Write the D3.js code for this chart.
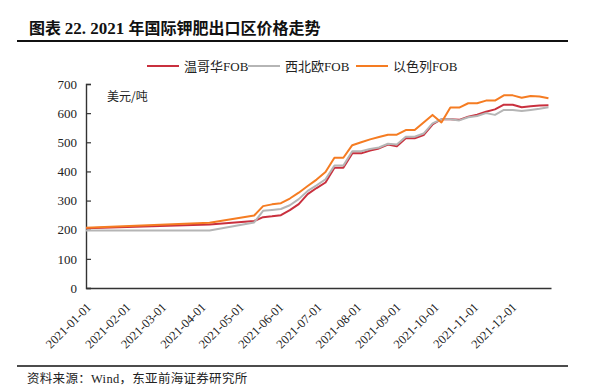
<!DOCTYPE html>
<html>
<head>
<meta charset="utf-8">
<script src="https://cdn.jsdelivr.net/npm/d3@7"></script>
<style>
  body { margin: 0; background: #fff; }
  svg { display: block; }
</style>
</head>
<body>
<div id="chart"></div>
<script>
// Weekly prices, USD/ton
const dates = [
  '2021-01-01', '2021-04-08',
  '2021-05-13', '2021-05-20', '2021-05-27',
  '2021-06-03', '2021-06-10', '2021-06-17', '2021-06-24',
  '2021-07-01', '2021-07-08', '2021-07-15', '2021-07-22', '2021-07-29',
  '2021-08-05', '2021-08-12', '2021-08-19', '2021-08-26',
  '2021-09-02', '2021-09-09', '2021-09-16', '2021-09-23', '2021-09-30',
  '2021-10-07', '2021-10-14', '2021-10-21', '2021-10-28',
  '2021-11-04', '2021-11-11', '2021-11-18', '2021-11-25',
  '2021-12-02', '2021-12-09', '2021-12-16', '2021-12-23', '2021-12-30'
];
const vancouver = [
  205, 218,
  230, 243, 246,
  250, 267, 288, 322,
  343, 362, 413, 413, 462,
  462, 472, 479, 492,
  486, 514, 514, 525, 561,
  579, 579, 577, 588,
  595, 605, 613, 629,
  629, 620, 624, 626, 627
];
const nwEurope = [
  197, 197,
  225, 265, 268,
  271, 284, 305, 333,
  352, 373, 420, 420, 469,
  469, 477, 482, 495,
  492, 519, 519, 530, 565,
  579, 579, 575, 586,
  590, 600, 594, 611,
  611, 607, 611, 615, 620
];
const israel = [
  207, 224,
  249, 281, 287,
  291, 307, 327, 350,
  372, 398, 447, 447, 490,
  500, 510, 518, 526,
  526, 542, 542, 568, 594,
  568, 619, 619, 634,
  634, 643, 643, 661,
  661, 653, 659, 657, 651
];
const seriesNames = ['温哥华FOB', '西北欧FOB', '以色列FOB'];
const seriesColors = ['#c9303e', '#b5b5b5', '#f57c22'];
const yTicks = [0, 100, 200, 300, 400, 500, 600, 700];
const xTickLabels = [
  '2021-01-01', '2021-02-01', '2021-03-01', '2021-04-01', '2021-05-01', '2021-06-01',
  '2021-07-01', '2021-08-01', '2021-09-01', '2021-10-01', '2021-11-01', '2021-12-01'
];

const width = 590, height = 391;
const margin = { top: 84, right: 39, bottom: 103, left: 86 };
const serif = '"Liberation Serif", "Times New Roman", "Noto Sans CJK SC", serif';
const cjk = '"Noto Sans CJK SC", "Liberation Serif", sans-serif';

const parseDate = d3.timeParse('%Y-%m-%d');

const svg = d3.select('#chart').append('svg')
  .attr('width', width)
  .attr('height', height);

// Title
const title = svg.append('text')
  .attr('x', 29)
  .attr('y', 34)
  .attr('font-size', 16)
  .attr('font-weight', 'bold')
  .attr('fill', '#111');
title.append('tspan').attr('font-family', cjk).text('图表 ');
title.append('tspan').attr('font-family', serif).attr('font-size', 17).text('22. 2021 ');
title.append('tspan').attr('font-family', cjk).text('年国际钾肥出口区价格走势');

svg.append('line')
  .attr('x1', 17).attr('x2', 568)
  .attr('y1', 41).attr('y2', 41)
  .attr('stroke', '#111')
  .attr('stroke-width', 2);

// Scales
const x = d3.scaleTime()
  .domain([parseDate('2021-01-01'), parseDate('2022-01-01')])
  .range([margin.left, width - margin.right]);

const y = d3.scaleLinear()
  .domain([0, 700])
  .range([height - margin.bottom, margin.top]);

// Y axis
const yAxis = svg.append('g')
  .attr('transform', `translate(${margin.left},0)`)
  .call(d3.axisRight(y).tickValues(yTicks).tickSize(5).tickFormat(d3.format('d')));
yAxis.select('.domain').attr('stroke', '#333').attr('stroke-width', 1.4);
yAxis.selectAll('.tick line').attr('stroke', '#333').attr('stroke-width', 1.2);
yAxis.selectAll('.tick text')
  .attr('x', -9)
  .attr('text-anchor', 'end')
  .attr('font-family', serif)
  .attr('font-size', 13)
  .attr('fill', '#222');

// X axis
const xAxis = svg.append('g')
  .attr('transform', `translate(0,${height - margin.bottom})`)
  .call(d3.axisBottom(x).tickValues(xTickLabels.map(parseDate)).tickSize(0).tickFormat(''));
xAxis.select('.domain').attr('stroke', '#333').attr('stroke-width', 1.4);

svg.append('g')
  .selectAll('text')
  .data(xTickLabels)
  .join('text')
  .attr('transform', d => `translate(${x(parseDate(d)) + 6},${height - margin.bottom + 20}) rotate(-45)`)
  .attr('text-anchor', 'end')
  .attr('font-family', serif)
  .attr('font-size', 12.5)
  .attr('fill', '#222')
  .text(d => d);

// Unit label
svg.append('text')
  .attr('x', 107)
  .attr('y', 101)
  .attr('font-family', cjk)
  .attr('font-size', 12)
  .attr('fill', '#222')
  .text('美元/吨');

// Lines
const line = d3.line()
  .x(d => x(d.date))
  .y(d => y(d.value));

[vancouver, nwEurope, israel].forEach((values, i) => {
  const data = dates.map((d, j) => ({ date: parseDate(d), value: values[j] }));
  svg.append('path')
    .datum(data)
    .attr('fill', 'none')
    .attr('stroke', seriesColors[i])
    .attr('stroke-width', 2)
    .attr('stroke-linejoin', 'round')
    .attr('d', line);
});

// Legend
const legendX = [147, 248, 356];
const legend = svg.append('g');
seriesNames.forEach((name, i) => {
  legend.append('line')
    .attr('x1', legendX[i]).attr('x2', legendX[i] + 32)
    .attr('y1', 66).attr('y2', 66)
    .attr('stroke', seriesColors[i])
    .attr('stroke-width', 2);
  const t = legend.append('text')
    .attr('x', legendX[i] + 37)
    .attr('y', 70.5)
    .attr('font-size', 13)
    .attr('fill', '#222');
  t.append('tspan').attr('font-family', cjk).text(name.replace('FOB', ''));
  t.append('tspan').attr('font-family', serif).text('FOB');
});

// Source
svg.append('line')
  .attr('x1', 17).attr('x2', 568)
  .attr('y1', 366).attr('y2', 366)
  .attr('stroke', '#111')
  .attr('stroke-width', 1.5);

const src = svg.append('text')
  .attr('x', 27)
  .attr('y', 383)
  .attr('font-size', 12.5)
  .attr('letter-spacing', 0.3)
  .attr('fill', '#222');
src.append('tspan').attr('font-family', cjk).text('资料来源：');
src.append('tspan').attr('font-family', serif).text('Wind');
src.append('tspan').attr('font-family', cjk).text('，东亚前海证券研究所');
</script>
</body>
</html>
